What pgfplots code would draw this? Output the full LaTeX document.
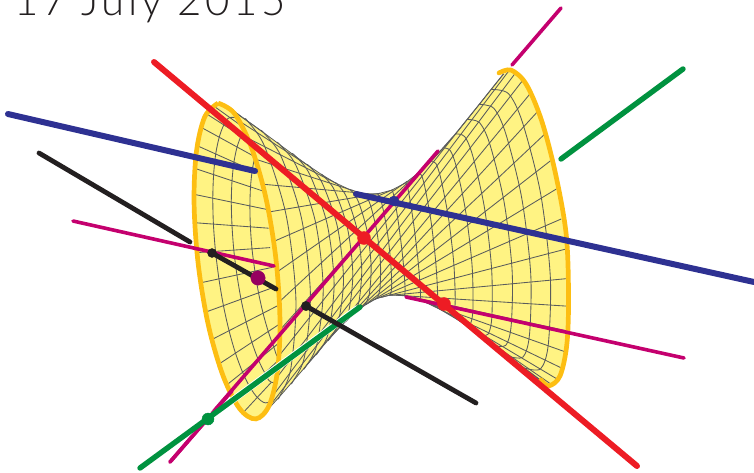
\documentclass[border=0pt]{standalone}
\usepackage{pgfplots}
\pgfplotsset{compat=1.18}
\usepackage{fontspec}
\newfontfamily\titlefont[LetterSpace=8.5]{Lato Light}
\definecolor{surf}{HTML}{FFF383}
\definecolor{rim}{HTML}{FDBE12}
\definecolor{meshc}{HTML}{5A5C5C}
\definecolor{redl}{HTML}{ED1C24}
\definecolor{bluel}{HTML}{2E3192}
\definecolor{greenl}{HTML}{00923F}
\definecolor{magl}{HTML}{C4006E}
\definecolor{blackl}{HTML}{231F20}
\definecolor{purp}{HTML}{960060}
\pgfplotsset{
  mer/.style={meshc, line width=0.85pt, smooth, tension=0.5, no markers},
  rul/.style={meshc, line width=0.85pt, no markers},
  seg/.style={line width=#1, no markers, line cap=round},
}
\begin{document}
\begin{tikzpicture}
\begin{axis}[
  width=754pt, height=472pt, scale only axis,
  xmin=0, xmax=754, ymin=0, ymax=472, y dir=reverse,
  hide axis, clip=true,
]
% keeps the whole frame in the picture
\addplot[draw=none, no markers, forget plot] coordinates {(0,0)(754,472)};
% opening of the left end
\addplot[fill=surf, draw=none, smooth, tension=0.55] coordinates {
 (218.1,103.1)(234.3,113.3)(250.9,146.1)(265.5,196.2)(275.6,256.3)(279.9,317.2)(277.7,369.3)(269.3,405.1)(255.9,418.9)
 (239.7,408.7)(223.1,375.9)(208.5,325.8)(198.4,265.7)(194.1,204.8)(196.3,152.7)(204.7,116.9)(218.1,103.1)} -- cycle;
% far wall seen through it
\addplot[rul] coordinates {(212.9,105.4)(246.5,129.5)};
\addplot[rul] coordinates {(206.3,113.7)(258.6,147.2)};
\addplot[rul] coordinates {(201.1,127.3)(272.5,166.4)};
\addplot[rul] coordinates {(197.2,145.7)(270.1,178.3)};
\addplot[rul] coordinates {(194.9,168.4)(268.6,192.9)};
\addplot[rul] coordinates {(194,194.3)(268.1,209.7)};
\addplot[rul] coordinates {(194.7,222.7)(268.6,228.2)};
\addplot[rul] coordinates {(196.9,252.6)(270.2,247.6)};
\addplot[rul] coordinates {(200.6,282.8)(272.5,267.3)};
\addplot[rul] coordinates {(205.7,312.1)(275.9,286.5)};
\addplot[rul] coordinates {(211.9,339.5)(279.8,304.6)};
\addplot[rul] coordinates {(218.9,364.1)(284.4,320.8)};
\addplot[rul] coordinates {(226.7,385)(289.3,334.6)};
\addplot[rul] coordinates {(234.8,401.5)(279.7,359)};
\addplot[rul] coordinates {(243.1,412.7)(271.4,382.2)};
\addplot[mer] coordinates {(245,119.2)(229.8,117.5)(223.8,125)(219.2,137.3)(215.7,154)(213.6,174.7)(212.8,198.2)(213.4,224)(215.5,251.2)(218.9,278.7)(223.4,305.4)(229,330.5)(235.4,352.9)(242.5,372)(249.8,387)(257.3,397.4)(265.8,402.9)(278.5,397.8)};
\addplot[mer] coordinates {(261.3,130.9)(246.5,129.5)(241.1,136.2)(237,147.3)(233.9,162.4)(232,181)(231.3,202.2)(232,225.5)(233.8,250)(236.9,274.8)(241,299)(246,321.6)(251.8,341.9)(258.1,359.2)(264.8,372.9)(271.4,382.2)(291.5,382.9)};
\addplot[mer] coordinates {(277,142.6)(258.6,147.2)(254.9,157)(252.2,170.5)(250.5,187)(249.9,206)(250.4,226.9)(252,248.8)(254.9,271)(258.5,292.7)(263,313)(268.2,331.3)(273.7,346.7)(279.7,359)(304,368.4)};
% near side of the surface
\addplot[fill=surf, draw=none] coordinates {
 (228.4,107)(245,119.2)(261.3,130.9)(277,142.6)(291.9,153.7)(306.7,164.5)(321,174.2)(335.2,182.8)(349.4,189.5)(363.3,193.5)(377.4,193.9)
 (391.6,190.2)(405.5,182.9)(418.4,172.9)(431.1,161)(443.5,147.9)(455.3,133.9)(467,119.5)(479.1,104.5)(491,89.5)(503.5,74)
 (511.1,70.1)(526,83.9)(541.3,119.7)(555.1,171.8)(566,232.7)(568.5,292.8)(567,342.9)(560.1,375.7)(548.9,385.9)(540,379.6)
 (524.4,368)(509.3,356.5)(494,345.3)(479.5,334.5)(464.5,324)(449.5,314.4)(434.4,306)(419.3,299.5)(404.2,295.4)(389.6,295.1)
 (375.9,298.7)(363.2,306.1)(351.2,315.9)(339.4,327.6)(327.7,340.5)(316.1,354.3)(304,368.4)(291.5,382.9)(278.5,397.8)(265,412.6)
 (269.3,405.1)(277.7,369.3)(279.9,317.2)(275.6,256.3)(265.5,196.2)(250.9,146.1)(234.3,113.3)} -- cycle;
% straight rulings: left rim to top edge
\addplot[rul] coordinates {(231.4,109.8)(262.9,132.1)};
\addplot[rul] coordinates {(239.7,121.3)(311,167.4)};
\addplot[rul] coordinates {(247.8,138.1)(336.6,183.5)};
\addplot[rul] coordinates {(255.6,159.2)(353.6,190.7)};
\addplot[rul] coordinates {(262.6,184.2)(367.5,193.6)};
\addplot[rul] coordinates {(268.7,212)(380.2,193.2)};
\addplot[rul] coordinates {(273.6,241.5)(393,189.5)};
\addplot[rul] coordinates {(277.3,271.8)(407.4,181.1)};
\addplot[rul] coordinates {(279.4,301.7)(426,165.8)};
\addplot[rul] coordinates {(280,329.9)(452.9,136.7)};
% left rim to right rim
\addplot[rul] coordinates {(279,355.8)(503.7,73.7)};
\addplot[rul] coordinates {(276.4,378.2)(509.4,70.1)};
\addplot[rul] coordinates {(272.5,396.2)(515.9,72.4)};
\addplot[rul] coordinates {(267.1,409.3)(522.9,80.1)};
% bottom edge to right rim
\addplot[rul] coordinates {(304,368.4)(530.1,93.7)};
\addplot[rul] coordinates {(327.7,340.5)(537.3,111.9)};
\addplot[rul] coordinates {(345.3,321.8)(544.4,134.4)};
\addplot[rul] coordinates {(357.2,311)(550.8,160.5)};
\addplot[rul] coordinates {(365.7,304.6)(556.5,188.9)};
\addplot[rul] coordinates {(374,299.8)(561.2,219)};
\addplot[rul] coordinates {(381.4,297.3)(564.8,249.3)};
\addplot[rul] coordinates {(388.2,295.5)(567,278.6)};
\addplot[rul] coordinates {(396.2,295.2)(568,306.2)};
\addplot[rul] coordinates {(404.2,295.4)(567.5,331)};
\addplot[rul] coordinates {(413.3,297.9)(565.7,352)};
\addplot[rul] coordinates {(423.8,301.5)(562.5,368.5)};
\addplot[rul] coordinates {(435.9,306.8)(558.2,379.7)};
\addplot[rul] coordinates {(457,319.2)(552.8,385.4)};
\addplot[rul] coordinates {(486.8,339.9)(546.6,385.3)};
% parallels, near side
\addplot[mer] coordinates {(491,89.5)(508.4,93.6)(522.3,121.9)(540.5,193)(550.3,276.6)(548.3,344.3)(540.6,368.8)(524.4,368)};
\addplot[mer] coordinates {(479.1,104.5)(493.8,108.3)(505.8,133.8)(521.7,197.9)(530.7,273.4)(529.5,334.5)(523.1,356.9)(509.3,356.5)};
\addplot[mer] coordinates {(467,119.5)(479.7,122.8)(490.2,145.4)(504.2,202.7)(512.1,270.3)(511.2,325.2)(505.8,345.3)(494,345.3)};
\addplot[mer] coordinates {(455.3,133.9)(464.8,136.7)(473,156.8)(484.4,207.4)(491.5,267.3)(491.9,316.1)(488.1,334.1)(479.5,334.5)};
\addplot[mer] coordinates {(443.5,147.9)(450.3,150.6)(456.6,167.9)(465.8,212.2)(472,264.7)(473,307.5)(470.6,323.3)(464.5,324)};
\addplot[mer] coordinates {(431.1,161)(435.9,163.5)(440.8,178.5)(448.3,216.9)(453.7,262.4)(455.2,299.6)(453.7,313.4)(449.5,314.4)};
\addplot[mer] coordinates {(418.4,172.9)(421.5,175.2)(425.1,188.2)(431,221.2)(435.6,260.5)(437.6,292.7)(437,304.6)(434.4,306)};
\addplot[mer] coordinates {(405.5,182.9)(407,185.2)(409.4,196.4)(413.8,225)(417.9,259.2)(420.2,287.3)(420.4,297.7)(419.3,299.5)};
\addplot[mer] coordinates {(391.6,190.2)(393,192.5)(395.2,202.5)(399.2,228.3)(402.9,258.9)(404.9,284.1)(405,293.6)(404.2,295.4)};
\addplot[mer] coordinates {(377.4,193.9)(379.4,196.2)(382.3,205.7)(387.1,230.3)(390.5,259.7)(391.7,284)(390.9,293.1)(389.6,295.1)};
\addplot[mer] coordinates {(363.3,193.5)(365.9,195.7)(370.6,205.6)(376.8,231.2)(380.4,261.9)(380.1,287.3)(377.7,296.9)(375.9,298.7)};
\addplot[mer] coordinates {(349.4,189.5)(352.2,191.6)(358.8,202.6)(367.1,231)(371.1,265.2)(369.4,293.5)(365.2,304.1)(363.2,306.1)};
\addplot[mer] coordinates {(335.2,182.8)(338,184.8)(346.7,197.3)(357.2,230)(361.7,269.2)(358.9,301.8)(353.2,314.2)(351.2,315.9)};
\addplot[mer] coordinates {(321,174.2)(323.8,176.1)(334.6,190.5)(347.5,228.3)(352.8,273.8)(348.7,311.6)(341.3,326)(339.4,327.6)};
\addplot[mer] coordinates {(306.7,164.5)(309.4,166.3)(322.1,182.8)(337.3,226.3)(343.5,278.8)(338.3,322.4)(329.5,339)(327.7,340.5)};
\addplot[mer] coordinates {(291.9,153.7)(294.8,155.5)(309.6,174.2)(327.1,223.8)(334.1,283.7)(328.1,333.7)(317.7,352.9)(316.1,354.3)};
\addplot[mer] coordinates {(277,142.6)(279.7,144.5)(296,165.5)(315.3,221.2)(323.2,288.8)(316.7,345.3)(305.4,367)(304,368.4)};
\addplot[mer] coordinates {(261.3,130.9)(263.8,132.9)(281,156.2)(301.5,218.3)(310.4,293.8)(304.4,357.1)(292.9,381.5)(291.5,382.9)};
\addplot[mer] coordinates {(245,119.2)(247.6,121)(264.8,146.8)(286.2,215.5)(295.9,299)(290.7,369.2)(279.7,396.3)(278.5,397.8)};
% silhouette edges
\addplot[meshc, line width=0.8pt, no markers] coordinates {(228.4,107)(245,119.2)(261.3,130.9)(277,142.6)(291.9,153.7)(306.7,164.5)(321,174.2)(335.2,182.8)(349.4,189.5)(363.3,193.5)(377.4,193.9)(391.6,190.2)(405.5,182.9)(418.4,172.9)(431.1,161)(443.5,147.9)(455.3,133.9)(467,119.5)(479.1,104.5)(491,89.5)(503.5,74)};
\addplot[meshc, line width=0.8pt, no markers] coordinates {(540,379.6)(524.4,368)(509.3,356.5)(494,345.3)(479.5,334.5)(464.5,324)(449.5,314.4)(434.4,306)(419.3,299.5)(404.2,295.4)(389.6,295.1)(375.9,298.7)(363.2,306.1)(351.2,315.9)(339.4,327.6)(327.7,340.5)(316.1,354.3)(304,368.4)(291.5,382.9)(278.5,397.8)(265,412.6)};
% rims
\addplot[rim, line width=4.7pt, smooth, tension=0.55, no markers] coordinates {
 (218.1,103.1)(234.3,113.3)(250.9,146.1)(265.5,196.2)(275.6,256.3)(279.9,317.2)(277.7,369.3)(269.3,405.1)(255.9,418.9)
 (239.7,408.7)(223.1,375.9)(208.5,325.8)(198.4,265.7)(194.1,204.8)(196.3,152.7)(204.7,116.9)(218.1,103.1)};
\addplot[rim, line width=4.7pt, smooth, tension=0.55, no markers, line cap=round] coordinates {
 (499,73)(511.1,70.1)(526,83.9)(541.3,119.7)(555.1,171.8)(566,232.7)(568.5,292.8)(567,342.9)(560.1,375.7)(548.9,385.9)(541,380)};
% lines
\addplot[bluel, seg=6pt] coordinates {(8,114)(255,171)};
\addplot[blackl, seg=4.8pt] coordinates {(39,153)(190,242)};
\addplot[magl, seg=3.6pt] coordinates {(73,221)(274,266)};
\addplot[blackl, seg=4.8pt] coordinates {(212,253)(276,289)};
\addplot[magl, seg=3.6pt] coordinates {(561,8)(512,65)};
\addplot[greenl, seg=5.4pt] coordinates {(683,69)(561,159)};
\addplot[magl, seg=3.6pt] coordinates {(438,151)(170,462)};
\addplot[white, line width=6.8pt, no markers] coordinates {(358,308)(140,468)};
\addplot[magl, seg=3.6pt] coordinates {(232,390.9)(170,462)};
\addplot[greenl, seg=5.4pt] coordinates {(360,307)(140,468)};
\addplot[blackl, seg=4.8pt] coordinates {(306,306)(476,403)};
\addplot[magl, seg=3.6pt] coordinates {(406,297)(684,358)};
\addplot[bluel, seg=6pt] coordinates {(356,194)(754,282)};
\addplot[redl, seg=6pt] coordinates {(154,62)(637,466)};
% points
\addplot[only marks, mark=*, mark size=4.5pt, blackl] coordinates {(212,253)};
\addplot[only marks, mark=*, mark size=4.7pt, blackl] coordinates {(306,306)};
\addplot[only marks, mark=*, mark size=7.2pt, purp] coordinates {(258,278)};
\addplot[only marks, mark=*, mark size=6pt, greenl] coordinates {(208,419)};
\addplot[only marks, mark=*, mark size=5pt, bluel] coordinates {(394,201)};
\addplot[only marks, mark=*, mark size=6.5pt, redl] coordinates {(364,238)};
\addplot[only marks, mark=*, mark size=6.5pt, redl] coordinates {(444,304)};
\node[overlay, anchor=base west, inner sep=0pt, text=blackl, font=\titlefont\fontsize{42}{42}\selectfont] at (axis cs:14,15.5) {17 July 2015};
\end{axis}
\end{tikzpicture}
\end{document}
